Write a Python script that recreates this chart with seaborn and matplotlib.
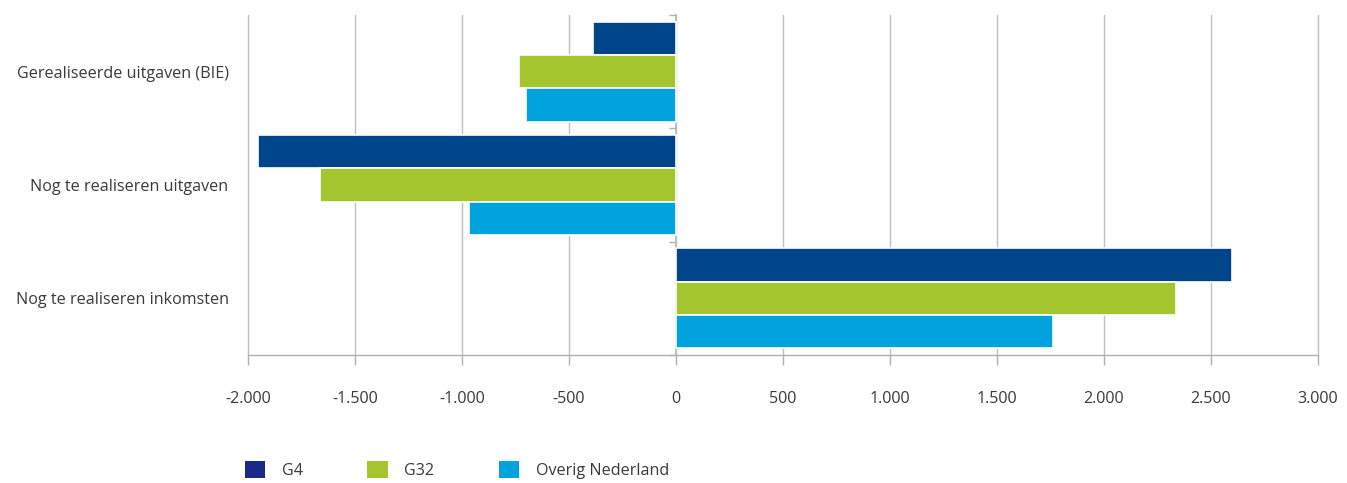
import matplotlib
matplotlib.use("Agg")
import matplotlib.pyplot as plt
import seaborn as sns
import pandas as pd
from matplotlib.patches import Patch
from matplotlib.ticker import FuncFormatter

categories = ["Gerealiseerde uitgaven (BIE)", "Nog te realiseren uitgaven", "Nog te realiseren inkomsten"]
series = ["G4", "G32", "Overig Nederland"]
g4 = [-390, -1955, 2600]
g32 = [-735, -1665, 2335]
overig = [-700, -965, 1760]
xticks = [-2000, -1500, -1000, -500, 0, 500, 1000, 1500, 2000, 2500, 3000]

bar_colors = ["#00448A", "#A5C52E", "#00A3DD"]
legend_colors = ["#1A2A86", "#A5C52E", "#00A3DD"]

rows = []
for name, vals in zip(series, [g4, g32, overig]):
    for c, v in zip(categories, vals):
        rows.append({"cat": c, "serie": name, "val": v})
df = pd.DataFrame(rows)

sns.set_theme(style="white")
plt.rcParams["font.family"] = ["Open Sans", "DejaVu Sans"]
text_color = "#3A3A3A"
fs = 11.6

fig = plt.figure(figsize=(13.47, 4.83), dpi=100)
ax = fig.add_axes([248/1347, 1-355/483, (1318-248)/1347, (355-15)/483])

sns.barplot(data=df, y="cat", x="val", hue="serie", order=categories, hue_order=series,
            palette=bar_colors, orient="h", width=0.88, edgecolor="white", linewidth=1.2,
            ax=ax, legend=False, saturation=1)

ax.set_xlim(-2000, 3000)
ax.set_ylim(2.5, -0.5)
ax.set_xticks(xticks)
ax.xaxis.set_major_formatter(FuncFormatter(lambda v, p: f"{int(v):,}".replace(",", ".")))
ax.grid(axis="x", color="#C0C0C0", linewidth=1)
ax.set_axisbelow(True)
for s in ["left", "right", "top"]:
    ax.spines[s].set_visible(False)
ax.spines["bottom"].set_color("#B0B0B0")
ax.spines["bottom"].set_linewidth(1)
ax.tick_params(axis="x", length=7, color="#B0B0B0", width=1, pad=19, labelsize=fs, labelcolor=text_color, bottom=True)
ax.tick_params(axis="y", length=0, pad=14, labelsize=fs, labelcolor=text_color)
ax.set_xlabel("")
ax.set_ylabel("")
for gl in ax.get_xgridlines():
    gl.set_clip_on(False)

sec = ax.secondary_yaxis(0.4)
sec.set_yticks([-0.5, 0.5, 1.5, 2.5])
sec.set_yticklabels([])
sec.spines["left"].set_color("#B0B0B0")
sec.spines["right"].set_color("#B0B0B0")
sec.tick_params(length=5, color="#B0B0B0", width=1)

handles = [Patch(facecolor=c, edgecolor="none") for c in legend_colors]
leg = fig.legend(handles, series, loc="center left", bbox_to_anchor=(230/1347, 1-470/483), ncol=3,
                 frameon=False, fontsize=fs, handlelength=1.3, handleheight=1.3,
                 handletextpad=1.0, columnspacing=4.0, labelcolor=text_color)

fig.savefig("out.png", dpi=100)
